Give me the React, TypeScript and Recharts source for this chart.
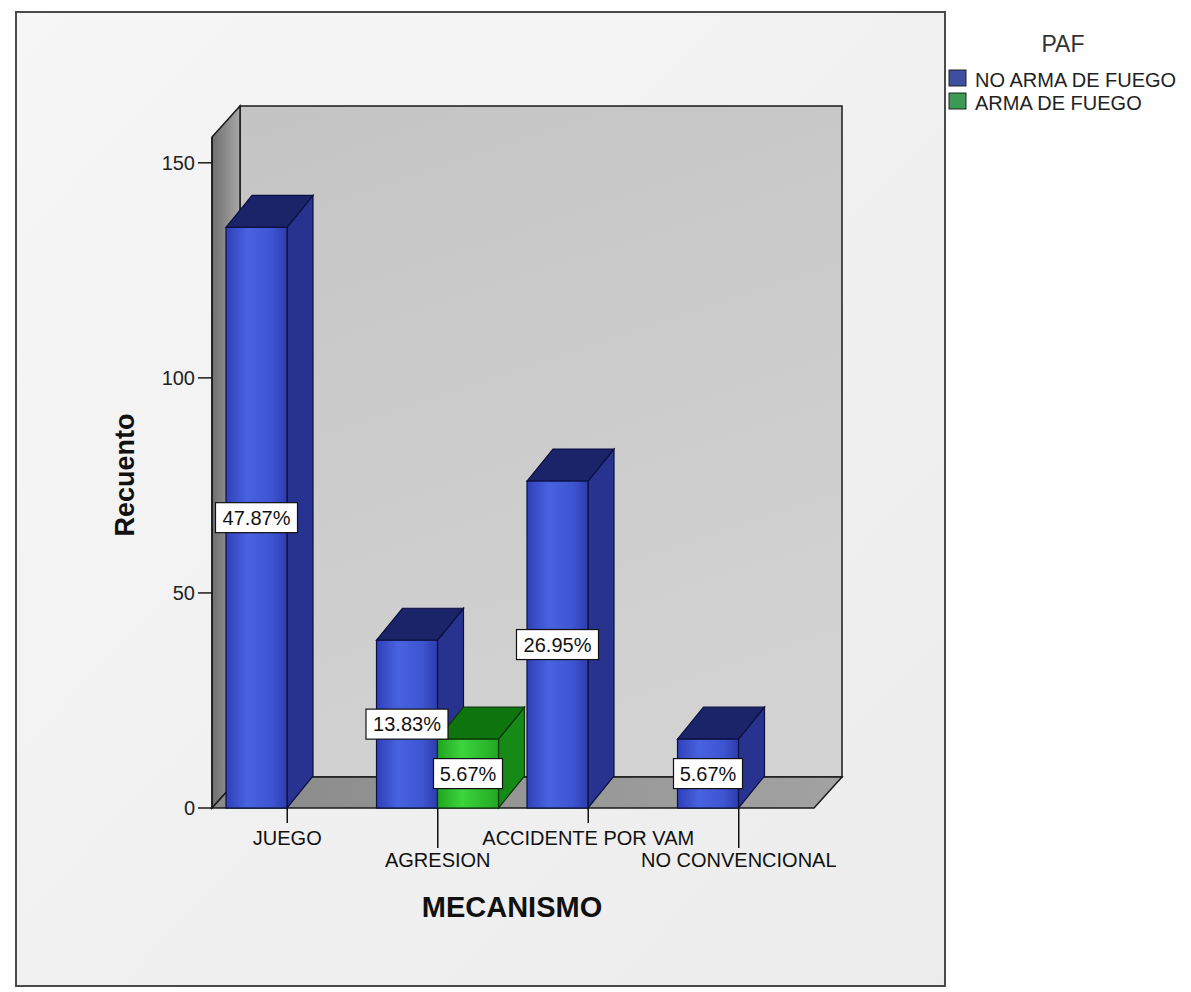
import React from 'react';
import { BarChart, Bar, XAxis, YAxis, LabelList } from 'recharts';

const categories = ['JUEGO', 'AGRESION', 'ACCIDENTE POR VAM', 'NO CONVENCIONAL'];
const noArmaDeFuego = [135, 39, 76, 16];
const armaDeFuego = [null, 16, null, null];
const yTicks = [0, 50, 100, 150];
const seriesNames = ['NO ARMA DE FUEGO', 'ARMA DE FUEGO'];

const data = categories.map((name, i) => ({ name, noArma: noArmaDeFuego[i], arma: armaDeFuego[i] }));
const total = [...noArmaDeFuego, ...armaDeFuego].reduce((s: number, v) => s + (v ?? 0), 0);

const W = 1191;
const H = 992;
// plot area (front plane) and 3D depth of the box
const PLOT = { left: 212, right: 814, top: 137, bottom: 808 };
const BOX = { dx: 28, dy: 31 };
const BAR3D = { dx: 26, dy: 32 };
const FONT = 'Arial, "Liberation Sans", sans-serif';

const palette = {
  blue: { front: 'url(#blueFront)', side: '#27338f', top: '#1b2468', stroke: '#0b1040' },
  green: { front: 'url(#greenFront)', side: '#168a16', top: '#0f760f', stroke: '#0a360a' },
};

const make3DBar = (c: typeof palette.blue) => (props: any) => {
  const { x, y, width: w, height: h } = props;
  if (!h || h <= 0) return <g />;
  const { dx, dy } = BAR3D;
  return (
    <g>
      <polygon
        points={`${x + w},${y} ${x + w + dx},${y - dy} ${x + w + dx},${y + h - dy} ${x + w},${y + h}`}
        fill={c.side}
        stroke={c.stroke}
        strokeWidth={1.2}
      />
      <polygon
        points={`${x},${y} ${x + dx},${y - dy} ${x + w + dx},${y - dy} ${x + w},${y}`}
        fill={c.top}
        stroke={c.stroke}
        strokeWidth={1.2}
      />
      <rect x={x} y={y} width={w} height={h} fill={c.front} stroke={c.stroke} strokeWidth={1.2} />
    </g>
  );
};

const renderPct = (props: any) => {
  const { x, y, width, height, value } = props;
  if (value == null || !value) return null;
  const txt = ((value / total) * 100).toFixed(2) + '%';
  const cx = x + width / 2;
  const cy = y + height / 2;
  const bw = txt.length * 13 + 4;
  return (
    <g>
      <rect x={cx - bw / 2} y={cy - 15} width={bw} height={30} fill="#ffffff" stroke="#111" strokeWidth={1.2} />
      <text x={cx} y={cy + 7} textAnchor="middle" fontSize={20} fontFamily={FONT} fill="#111">
        {txt}
      </text>
    </g>
  );
};

const XTick = (props: any) => {
  const { x, y, payload, index } = props;
  const low = index % 2 === 1;
  return (
    <g>
      <line x1={x} y1={y} x2={x} y2={y + (low ? 40 : 15)} stroke="#111" strokeWidth={1.5} />
      <text x={x} y={y + (low ? 59 : 37)} textAnchor="middle" fontSize={20} fontFamily={FONT} fill="#111">
        {payload.value}
      </text>
    </g>
  );
};

const Background = () => {
  const { left, right, top, bottom } = PLOT;
  const { dx, dy } = BOX;
  return (
    <svg width={W} height={H} style={{ position: 'absolute', left: 0, top: 0 }}>
      <defs>
        <linearGradient id="frameBg" x1="0" y1="0" x2="1" y2="1">
          <stop offset="0" stopColor="#f6f6f6" />
          <stop offset="1" stopColor="#ececec" />
        </linearGradient>
        <linearGradient id="backWall" x1="0" y1="0" x2="0.3" y2="1">
          <stop offset="0" stopColor="#c4c4c4" />
          <stop offset="1" stopColor="#d2d2d2" />
        </linearGradient>
        <linearGradient id="leftWall" x1="0" y1="0" x2="1" y2="0">
          <stop offset="0" stopColor="#6f6f6f" />
          <stop offset="1" stopColor="#a8a8a8" />
        </linearGradient>
        <linearGradient id="floor" x1="0" y1="0" x2="1" y2="0">
          <stop offset="0" stopColor="#8a8a8a" />
          <stop offset="1" stopColor="#a2a2a2" />
        </linearGradient>
        <linearGradient id="blueFront" x1="0" y1="0" x2="1" y2="0">
          <stop offset="0" stopColor="#2f40b8" />
          <stop offset="0.35" stopColor="#4862e0" />
          <stop offset="0.75" stopColor="#3e55d2" />
          <stop offset="1" stopColor="#2c3cad" />
        </linearGradient>
        <linearGradient id="greenFront" x1="0" y1="0" x2="1" y2="0">
          <stop offset="0" stopColor="#1fa51f" />
          <stop offset="0.4" stopColor="#3dd43d" />
          <stop offset="1" stopColor="#22a822" />
        </linearGradient>
      </defs>
      <rect x={0} y={0} width={W} height={H} fill="#ffffff" />
      <rect x={16} y={12} width={929} height={974} fill="url(#frameBg)" stroke="#4a4a4a" strokeWidth={2} />
      <rect x={left + dx} y={top - dy} width={right - left} height={bottom - top} fill="url(#backWall)" stroke="#1a1a1a" strokeWidth={1.5} />
      <polygon
        points={`${left},${top} ${left + dx},${top - dy} ${left + dx},${bottom - dy} ${left},${bottom}`}
        fill="url(#leftWall)"
        stroke="#1a1a1a"
        strokeWidth={1.5}
      />
      <polygon
        points={`${left},${bottom} ${left + dx},${bottom - dy} ${right + dx},${bottom - dy} ${right},${bottom}`}
        fill="url(#floor)"
        stroke="#1a1a1a"
        strokeWidth={1.5}
      />
      <text
        transform={`translate(134,475) rotate(-90)`}
        textAnchor="middle"
        fontSize={27}
        fontWeight="bold"
        fontFamily={FONT}
        fill="#111"
      >
        Recuento
      </text>
      <text x={512} y={917} textAnchor="middle" fontSize={29} fontWeight="bold" fontFamily={FONT} fill="#111">
        MECANISMO
      </text>
      {/* legend */}
      <text x={1063} y={52} textAnchor="middle" fontSize={23} fontFamily={FONT} fill="#333">
        PAF
      </text>
      <rect x={949} y={70} width={17} height={16} fill="#3f4f9f" stroke="#222" strokeWidth={1} />
      <text x={975} y={87} fontSize={20} fontFamily={FONT} fill="#222">
        {seriesNames[0]}
      </text>
      <rect x={949} y={93} width={17} height={16} fill="#3c9a54" stroke="#222" strokeWidth={1} />
      <text x={975} y={110} fontSize={20} fontFamily={FONT} fill="#222">
        {seriesNames[1]}
      </text>
    </svg>
  );
};

export default function App() {
  const yAxisWidth = 60;
  const xAxisHeight = 80;
  return (
    <div style={{ position: 'absolute', left: 0, top: 0, width: W, height: H, background: '#fff' }}>
      <Background />
      <div style={{ position: 'absolute', left: 0, top: 0 }}>
        <BarChart
          width={W}
          height={H}
          data={data}
          margin={{
            top: PLOT.top,
            left: PLOT.left - yAxisWidth,
            right: W - PLOT.right,
            bottom: H - PLOT.bottom - xAxisHeight,
          }}
          barCategoryGap={14}
          barGap={0}
        >
          <XAxis
            dataKey="name"
            height={xAxisHeight}
            axisLine={false}
            tickLine={false}
            tickSize={0}
            tickMargin={0}
            interval={0}
            tick={<XTick />}
          />
          <YAxis
            width={yAxisWidth}
            domain={[0, 156]}
            ticks={yTicks}
            axisLine={{ stroke: '#1a1a1a', strokeWidth: 1.5 }}
            tickLine={{ stroke: '#1a1a1a', strokeWidth: 1.5 }}
            tickSize={14}
            tickMargin={3}
            tick={{ fontSize: 20, fontFamily: FONT, fill: '#222' }}
          />
          <Bar dataKey="noArma" name={seriesNames[0]} shape={make3DBar(palette.blue)} isAnimationActive={false}>
            <LabelList dataKey="noArma" content={renderPct} />
          </Bar>
          <Bar dataKey="arma" name={seriesNames[1]} shape={make3DBar(palette.green)} isAnimationActive={false}>
            <LabelList dataKey="arma" content={renderPct} />
          </Bar>
        </BarChart>
      </div>
    </div>
  );
}
